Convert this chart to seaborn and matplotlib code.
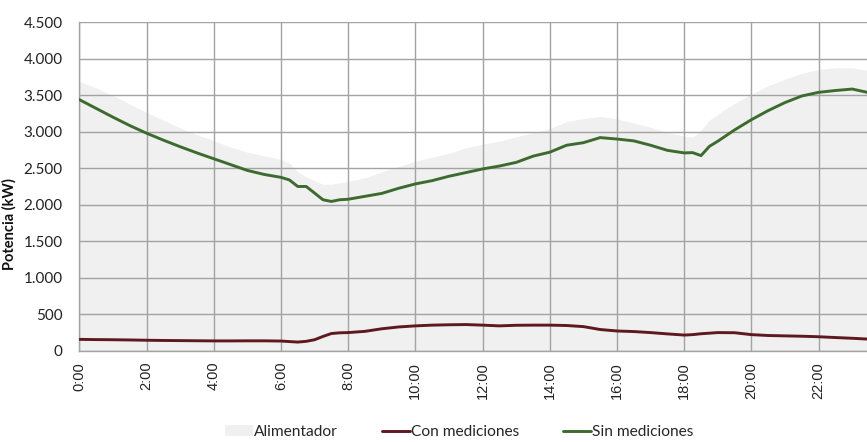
import matplotlib
matplotlib.use("Agg")
import matplotlib.pyplot as plt
from matplotlib.patches import Patch
from matplotlib.lines import Line2D
import numpy as np
import pandas as pd
import seaborn as sns

# Hora del día (h:mm)
horas = ["0:00", "0:30", "1:00", "1:30", "2:00", "2:30", "3:00", "3:30",
         "4:00", "4:30", "5:00", "5:30", "6:00", "6:15", "6:30", "6:45",
         "7:00", "7:15", "7:30", "7:45", "8:00", "8:30", "9:00", "9:30",
         "10:00", "10:30", "11:00", "11:30", "12:00", "12:30", "13:00", "13:30",
         "14:00", "14:30", "15:00", "15:30", "16:00", "16:30", "17:00", "17:30",
         "18:00", "18:15", "18:30", "18:45", "19:00", "19:30", "20:00", "20:30",
         "21:00", "21:30", "22:00", "22:30", "23:00", "23:30"]

# Demanda total del alimentador (kW)
alimentador = [3690, 3600, 3500, 3380, 3265, 3160, 3050, 2960,
               2880, 2790, 2720, 2670, 2620, 2575, 2450, 2380,
               2330, 2280, 2280, 2300, 2320, 2370, 2450, 2525,
               2595, 2650, 2705, 2780, 2830, 2870, 2930, 2990,
               3040, 3140, 3180, 3210, 3175, 3120, 3060, 2990,
               2940, 2925, 3020, 3160, 3240, 3390, 3515, 3630,
               3720, 3800, 3855, 3875, 3875, 3840]

# Carga de clientes con medición (kW)
con_mediciones = [155, 152, 150, 147, 143, 140, 138, 136,
                  134, 134, 135, 135, 132, 125, 118, 128,
                  150, 195, 235, 245, 248, 265, 300, 325,
                  340, 350, 355, 358, 350, 340, 348, 350,
                  350, 345, 330, 290, 270, 262, 248, 230,
                  214, 220, 232, 240, 248, 246, 220, 208,
                  203, 198, 191, 180, 170, 158]

# Carga de clientes sin medición (kW)
sin_mediciones = [3440, 3320, 3200, 3085, 2980, 2885, 2795, 2710,
                  2630, 2550, 2470, 2415, 2375, 2340, 2250, 2250,
                  2160, 2068, 2045, 2068, 2075, 2115, 2155, 2225,
                  2285, 2330, 2390, 2440, 2490, 2530, 2580, 2665,
                  2720, 2815, 2850, 2920, 2900, 2875, 2815, 2745,
                  2710, 2714, 2673, 2800, 2870, 3025, 3165, 3290,
                  3400, 3490, 3540, 3565, 3585, 3535]

ticks_x = ["0:00", "2:00", "4:00", "6:00", "8:00", "10:00",
           "12:00", "14:00", "16:00", "18:00", "20:00", "22:00"]
ticks_y = [0, 500, 1000, 1500, 2000, 2500, 3000, 3500, 4000, 4500]


def a_horas(etiqueta):
    h, m = etiqueta.split(":")
    return int(h) + int(m) / 60.0


t = np.array([a_horas(h) for h in horas])
df = pd.DataFrame({"hora": t,
                   "Alimentador": alimentador,
                   "Con mediciones": con_mediciones,
                   "Sin mediciones": sin_mediciones})

sns.set_theme(style="white")
plt.rcParams["font.family"] = ["Lato", "DejaVu Sans"]

C_AREA = "#f0f0f0"
C_CON = "#5e1820"
C_SIN = "#3d6b2f"
C_GRID = "#a3a3a3"

fig = plt.figure(figsize=(8.67, 4.42), dpi=100)
ax = fig.add_axes([0.0915, 0.2066, 0.9085, 0.743])

ax.fill_between(df["hora"], 0, df["Alimentador"], color=C_AREA, lw=0, zorder=0.2)
sns.lineplot(data=df, x="hora", y="Con mediciones", color=C_CON, linewidth=2.1,
             ax=ax, zorder=3)
sns.lineplot(data=df, x="hora", y="Sin mediciones", color=C_SIN, linewidth=2.1,
             ax=ax, zorder=3)

ax.set_xlim(0, 23.44)
ax.set_ylim(0, 4500)
ax.set_xticks([a_horas(h) for h in ticks_x])
ax.set_xticklabels(ticks_x, rotation=90, fontsize=10.5, color="#222222",
                   family=["Liberation Sans", "DejaVu Sans"])
ax.set_yticks(ticks_y)
ax.set_yticklabels([f"{v:,}".replace(",", ".") for v in ticks_y],
                   fontsize=11, color="#222222")
ax.tick_params(axis="both", length=0)
ax.tick_params(axis="y", pad=12)
ax.tick_params(axis="x", pad=8)

ax.set_axisbelow(True)
ax.grid(True, color=C_GRID, linewidth=1.0)
for s in ["top", "right"]:
    ax.spines[s].set_visible(False)
for s in ["left", "bottom"]:
    ax.spines[s].set_color(C_GRID)
    ax.spines[s].set_linewidth(1.0)

ax.set_xlabel("")
ax.set_ylabel("Potencia (kW)", fontsize=10.5, fontweight="bold", color="#111111")
ax.yaxis.set_label_coords(-0.080, 0.386)

handles = [Patch(facecolor=C_AREA, edgecolor="none"),
           Line2D([], [], color=C_CON, linewidth=2.1),
           Line2D([], [], color=C_SIN, linewidth=2.1)]
labels = ["Alimentador", "Con mediciones", "Sin mediciones"]
fig.legend(handles, labels, loc="center", bbox_to_anchor=(0.5295, 0.0226),
           ncol=3, frameon=False, fontsize=11.2, handlelength=1.8,
           handletextpad=0.08, columnspacing=2.8)

fig.savefig("out.png", dpi=100)
